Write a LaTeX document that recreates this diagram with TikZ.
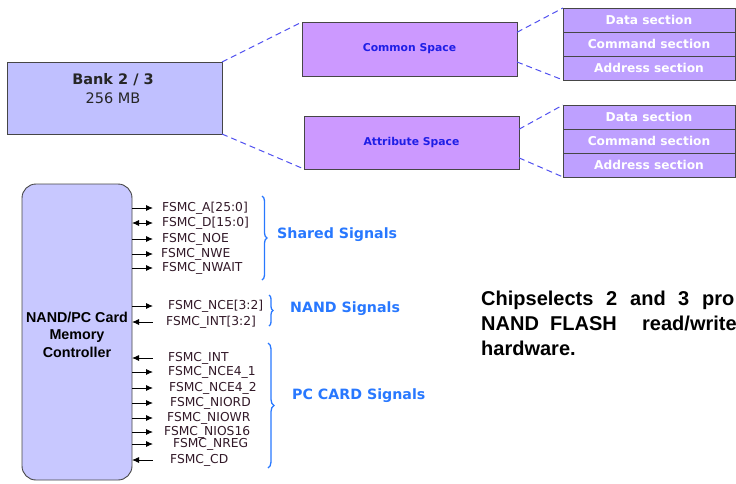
\documentclass[tikz,border=0pt]{standalone}
\usepackage{fontspec}
\setmainfont{DejaVu Sans}
\newfontfamily\arialfont{Liberation Sans}
\usetikzlibrary{decorations.pathreplacing,arrows.meta,calc}
\definecolor{bankfill}{RGB}{192,192,255}
\definecolor{spacefill}{RGB}{204,153,255}
\definecolor{secfill}{RGB}{190,160,255}
\definecolor{ctrlfill}{RGB}{200,200,255}
\definecolor{dashblue}{RGB}{80,80,240}
\definecolor{braceblue}{RGB}{40,120,255}
\definecolor{spacetext}{RGB}{30,30,230}
\definecolor{sigtext}{RGB}{50,25,40}
\definecolor{edgegray}{RGB}{70,70,70}
\tikzset{
  box/.style={draw=edgegray, line width=0.9pt, inner sep=0pt, outer sep=0pt},
  secbox/.style={box, fill=secfill, minimum width=172pt, minimum height=24pt, text=white, font=\fontsize{12.2}{14}\selectfont\bfseries},
  spacebox/.style={box, fill=spacefill, minimum width=215pt, text=spacetext, font=\fontsize{10.8}{12}\selectfont\bfseries},
  dashlink/.style={draw=dashblue, dash pattern=on 6pt off 4pt, line width=1pt},
  siglabel/.style={anchor=west, inner sep=0pt, text=sigtext, font=\fontsize{12.3}{14}\selectfont},
  sigarrow/.style={line width=0.9pt},
  dirr/.style={-{Latex[length=7pt,width=6pt]}},
  dirl/.style={{Latex[length=7pt,width=6pt]}-},
  dirb/.style={{Latex[length=7pt,width=6pt]}-{Latex[length=7pt,width=6pt]}},
  bracestyle/.style={draw=braceblue, line width=1.3pt, decorate},
  bracelabel/.style={anchor=west, inner sep=0pt, text=braceblue, font=\fontsize{14.2}{16}\selectfont\bfseries},
  chiptext/.style={anchor=base west, inner sep=0pt, font=\arialfont\fontsize{20}{24}\selectfont\bfseries}
}
\begin{document}
\begin{tikzpicture}[x=1pt,y=-1pt]
\useasboundingbox (0,0) rectangle (736,483);

% Bank
\node[box, fill=bankfill, minimum width=215pt, minimum height=72pt] (bank) at (114.5,98) {};
\node[font=\fontsize{14.5}{19}\selectfont, align=center, text=black!85, inner sep=0pt] (banktxt) at (113,89) {\textbf{Bank 2 / 3}\\256 MB};

% spaces
\node[spacebox, minimum height=54pt] (common) at (409.5,49) {Common Space};
\node[spacebox, minimum height=53pt] (attr) at (411.5,142.5) {Attribute Space};

% sections
\node[secbox] (d1) at (649,20) {Data section};
\node[secbox] (c1) at (649,44) {Command section};
\node[secbox] (a1) at (649,68) {Address section};
\node[secbox] (d2) at (649,117) {Data section};
\node[secbox] (c2) at (649,141) {Command section};
\node[secbox] (a2) at (649,165) {Address section};

% dashed links
\draw[dashlink] (bank.north east) -- (common.north west);
\draw[dashlink] (bank.south east) -- (attr.south west);
\draw[dashlink] ($(common.north east)!0.19!(common.south east)$) -- (d1.north west);
\draw[dashlink] ($(common.north east)!0.74!(common.south east)$) -- (a1.south west);
\draw[dashlink] ($(attr.north east)!0.25!(attr.south east)$) -- (d2.north west);
\draw[dashlink] ($(attr.north east)!0.79!(attr.south east)$) -- (a2.south west);

% controller
\node[box, fill=ctrlfill, rounded corners=14pt, minimum width=110pt, minimum height=296pt] (ctrl) at (77,332) {};
\node[font=\arialfont\fontsize{14.3}{17.5}\selectfont\bfseries, align=center, inner sep=0pt] (ctrltxt) at (77,334.5) {NAND/PC Card\\Memory\\Controller};

% signals
\foreach \n/\y/\x/\t/\d in {
  sa/208/162/FSMC\_A[25:0]/dirr,
  sd/223/162/FSMC\_D[15:0]/dirb,
  snoe/239/162/FSMC\_NOE/dirr,
  snwe/254/161/FSMC\_NWE/dirr,
  snwait/268/162/FSMC\_NWAIT/dirr,
  snce/306/168/FSMC\_NCE[3:2]/dirr,
  sint/322/166/FSMC\_INT[3:2]/dirl,
  spint/358/168/FSMC\_INT/dirl,
  snce1/372/168/FSMC\_NCE4\_1/dirr,
  snce2/388/169/FSMC\_NCE4\_2/dirr,
  sniord/403/170/FSMC\_NIORD/dirr,
  sniowr/418/167/FSMC\_NIOWR/dirr,
  snios/432/164/FSMC\_NIOS16/dirr,
  snreg/444/173/FSMC\_NREG/dirr,
  scd/460/170/FSMC\_CD/dirl}{
  \node[siglabel] (\n) at (\x,\y) {\t};
  \draw[sigarrow,\d] (ctrl.east |- \n.west) -- ++(21,0);
}

% braces
\draw[bracestyle, decoration={brace, amplitude=5pt}] (262,196) -- (262,280);
\draw[bracestyle, decoration={brace, amplitude=4pt}] (269,295) -- (269,326);
\draw[bracestyle, decoration={brace, amplitude=6pt}] (268,343) -- (268,468);
\node[bracelabel] (shared) at (277,235) {Shared Signals};
\node[bracelabel] (nand) at (290,309) {NAND Signals};
\node[bracelabel] (pccard) at (292,396) {PC CARD Signals};

% chip select text
\node[chiptext] (w1) at (481,305) {Chipselects};
\node[chiptext] (w2) at (606,305) {2};
\node[chiptext] (w3) at (630,305) {and};
\node[chiptext] (w4) at (678,305) {3};
\node[chiptext] (w5) at (702,305) {pro};
\node[chiptext] (w6) at (481,330) {NAND};
\node[chiptext] (w7) at (550,330) {FLASH};
\node[chiptext] (w8) at (642,330) {read/write};
\node[chiptext] (w9) at (481,355) {hardware.};
\end{tikzpicture}
\end{document}
